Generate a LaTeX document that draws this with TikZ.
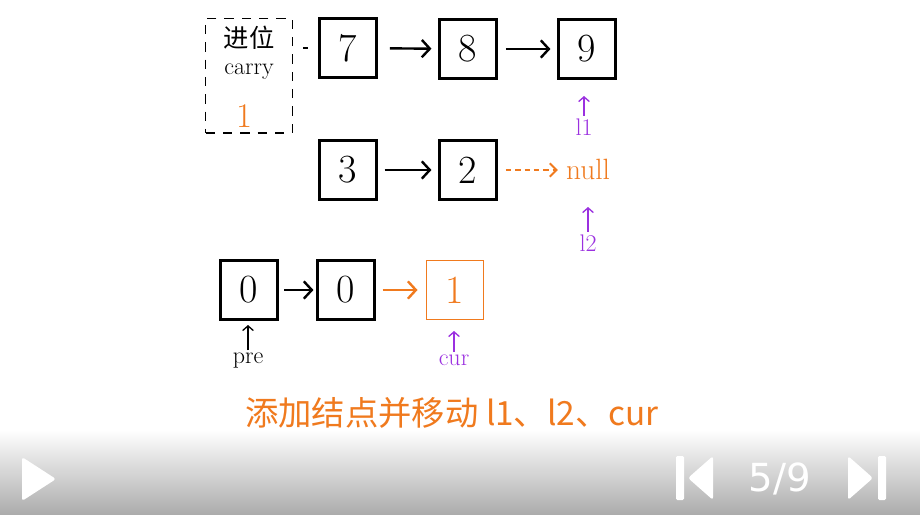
\documentclass[tikz,border=0pt]{standalone}
\usepackage{fontspec}
\setsansfont{DejaVu Sans}
\newfontfamily\cjk{Noto Sans CJK SC}
\usetikzlibrary{arrows.meta}
\definecolor{ora}{RGB}{240,122,30}
\definecolor{pur}{RGB}{155,48,224}
\definecolor{barbot}{RGB}{172,172,172}
\tikzset{
  box/.style={draw, line width=1.8pt, minimum width=43pt, minimum height=44pt, inner sep=0pt, font=\fontsize{30}{30}\selectfont},
  obox/.style={box, draw=ora, line width=1.2pt, text=ora},
  arr/.style={line width=1.8pt, -{Straight Barb[length=6pt,width=13pt]}},
  oarr/.style={arr, draw=ora},
  darr/.style={line width=1.4pt, draw=ora, dash pattern=on 4pt off 3pt, -{Straight Barb[length=5pt,width=10pt]}},
  ptr/.style={line width=1pt, -{Straight Barb[length=3.5pt,width=8pt]}},
  lbl/.style={inner sep=2pt, font=\fontsize{18}{18}\selectfont},
  ctrl/.style={fill=white, draw=none},
}
\begin{document}
\begin{tikzpicture}[x=0.75pt,y=-0.75pt]
\useasboundingbox (0,0) rectangle (920,514);
\fill[white] (0,0) rectangle (920,514);
% carry box
\node[draw, line width=1pt, dash pattern=on 7pt off 6pt, minimum width=65pt, minimum height=86pt] (carry) at (249,75.5) {};
\node[font=\cjk\fontsize{19}{19}\selectfont] (jw) at (249,38) {进位};
\node[lbl] (ctext) at (249,72) {carry};
\node[lbl, text=ora, font=\fontsize{26}{26}\selectfont] (cval) at (244,116) {1};
% row 1
\node[box] (n7) at (348,48) {7};
\node[box] (n8) at (468,49) {8};
\node[box] (n9) at (587,49) {9};
\draw[line width=0.8pt, dash pattern=on 0pt off 7.5pt on 3.75pt off 30pt] (carry.east |- n7.west) -- (n7.west);
\draw[arr, shorten <=9pt, shorten >=5pt] (n7) -- (n8);
\draw[arr, shorten <=6pt, shorten >=5pt] (n8) -- (n9);
% l1
\node[lbl, text=pur] (l1) at (584,127) {l1};
\coordinate (l1tip) at (584,96);
\draw[ptr, draw=pur] (l1) -- (l1tip);
% row 2
\node[box] (n3) at (348,170) {3};
\node[box] (n2) at (468,170) {2};
\node[lbl, text=ora, font=\fontsize{22}{22}\selectfont] (null) at (588,169) {null};
\draw[arr, shorten <=5pt, shorten >=5pt] (n3) -- (n2);
\draw[darr, shorten <=6pt, shorten >=4pt] (n2.east) -- (null.west |- n2.east);
% l2
\node[lbl, text=pur] (l2) at (588,243) {l2};
\coordinate (l2tip) at (588,207);
\draw[ptr, draw=pur] (l2) -- (l2tip);
% row 3
\node[box] (z1) at (249,290) {0};
\node[box] (z2) at (346,290) {0};
\node[obox] (c1) at (455,290) {1};
\draw[arr, shorten <=4pt, shorten >=2pt] (z1) -- (z2);
\draw[oarr, shorten <=5pt, shorten >=6pt] (z2) -- (c1);
% pre / cur
\node[lbl] (pre) at (248,361) {pre};
\coordinate (pretip) at (248,325);
\draw[ptr] (pre) -- (pretip);
\node[lbl, text=pur] (cur) at (454,360) {cur};
\coordinate (curtip) at (454,331);
\draw[ptr, draw=pur] (cur) -- (curtip);
% title
\node[text=ora, font=\cjk\fontsize{25}{25}\selectfont] (title) at (452,413) {添加结点并移动 l1、l2、cur};
% bottom bar
\shade[top color=white, bottom color=barbot] (0,430) rectangle (920,514);
\fill[ctrl, rounded corners=2pt] (22,457) -- (56,479) -- (22,501) -- cycle;
\fill[ctrl, rounded corners=1pt] (676,456) rectangle (684,500);
\fill[ctrl, rounded corners=2pt] (713,456) -- (688,478) -- (713,500) -- cycle;
\node[text=white, font=\sffamily\fontsize{29}{29}\selectfont] (page) at (780,479) {5/9};
\fill[ctrl, rounded corners=2pt] (848,456) -- (873,478) -- (848,500) -- cycle;
\fill[ctrl, rounded corners=1pt] (878,456) rectangle (886,500);
\end{tikzpicture}
\end{document}
